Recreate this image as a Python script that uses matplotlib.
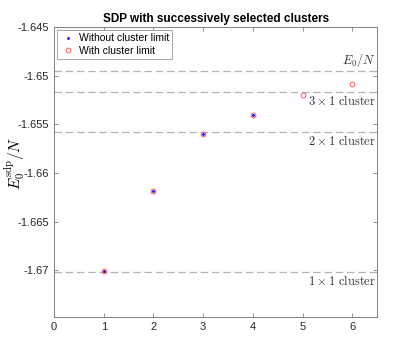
import matplotlib
matplotlib.use('Agg')
import matplotlib.pyplot as plt

plt.rcParams['mathtext.fontset'] = 'cm'
plt.rcParams['axes.unicode_minus'] = False
plt.rcParams['font.family'] = ['Liberation Sans', 'DejaVu Sans']

# data
x_no_limit = [1, 2, 3, 4]
e_no_limit = [-1.67010, -1.66180, -1.65602, -1.65401]
x_limit = [1, 2, 3, 4, 5, 6]
e_limit = [-1.67010, -1.66180, -1.65602, -1.65401, -1.65194, -1.65082]

ref_levels = [-1.64946, -1.65166, -1.65574, -1.67013]
ref_labels = [r'$E_0/N$', r'$3\times 1\ \mathrm{cluster}$',
              r'$2\times 1\ \mathrm{cluster}$', r'$1\times 1\ \mathrm{cluster}$']
ref_above = [True, False, False, False]

yticks = [-1.645, -1.65, -1.655, -1.66, -1.665, -1.67]
ytick_labels = ['-1.645', '-1.65', '-1.655', '-1.66', '-1.665', '-1.67']

fig = plt.figure(figsize=(4.17, 3.57), dpi=100)
ax = fig.add_axes([0.1295, 0.112, 0.775, 0.812])

for lvl, lab, above in zip(ref_levels, ref_labels, ref_above):
    ax.axhline(lvl, color='#b4b4b4', linestyle=(0, (6, 3)), linewidth=0.9, zorder=1)
    if above:
        ax.text(6.47, lvl + 0.0002, lab, ha='right', va='bottom', fontsize=9, color='#333333')
    else:
        ax.text(6.47, lvl - 0.0002, lab, ha='right', va='top', fontsize=9, color='#333333')

ax.plot(x_no_limit, e_no_limit, linestyle='none', marker='o', color='blue',
        markersize=2, markeredgewidth=0, label='Without cluster limit', zorder=3)
ax.plot(x_limit, e_limit, linestyle='none', marker='o', markerfacecolor='none',
        markeredgecolor='#ff5a5a', markersize=3.5, markeredgewidth=0.7,
        label='With cluster limit', zorder=4)

ax.set_xlim(0, 6.5)
ax.set_ylim(-1.6748, -1.645)
ax.set_xticks(range(0, 7))
ax.set_yticks(yticks)
ax.set_yticklabels(ytick_labels)
ax.tick_params(direction='in', top=True, right=True, length=3, width=0.6,
               labelsize=8, colors='#808080', labelcolor='#262626')
for s in ax.spines.values():
    s.set_color('#808080')
    s.set_linewidth(0.7)

ax.set_ylabel(r'$E_0^{\mathrm{sdp}}/N$', fontsize=11)
ax.yaxis.set_label_coords(-0.083, 0.53)
ax.set_title('SDP with successively selected clusters', fontsize=8.5,
             fontweight='bold', pad=4)

leg = ax.legend(loc='upper left', fontsize=7.5, frameon=True, fancybox=False,
                edgecolor='#808080', handletextpad=0.3, borderpad=0.3,
                labelspacing=0.25, handlelength=1.5, borderaxespad=0.3)
leg.get_frame().set_linewidth(0.6)

fig.savefig('out.png', dpi=100)
